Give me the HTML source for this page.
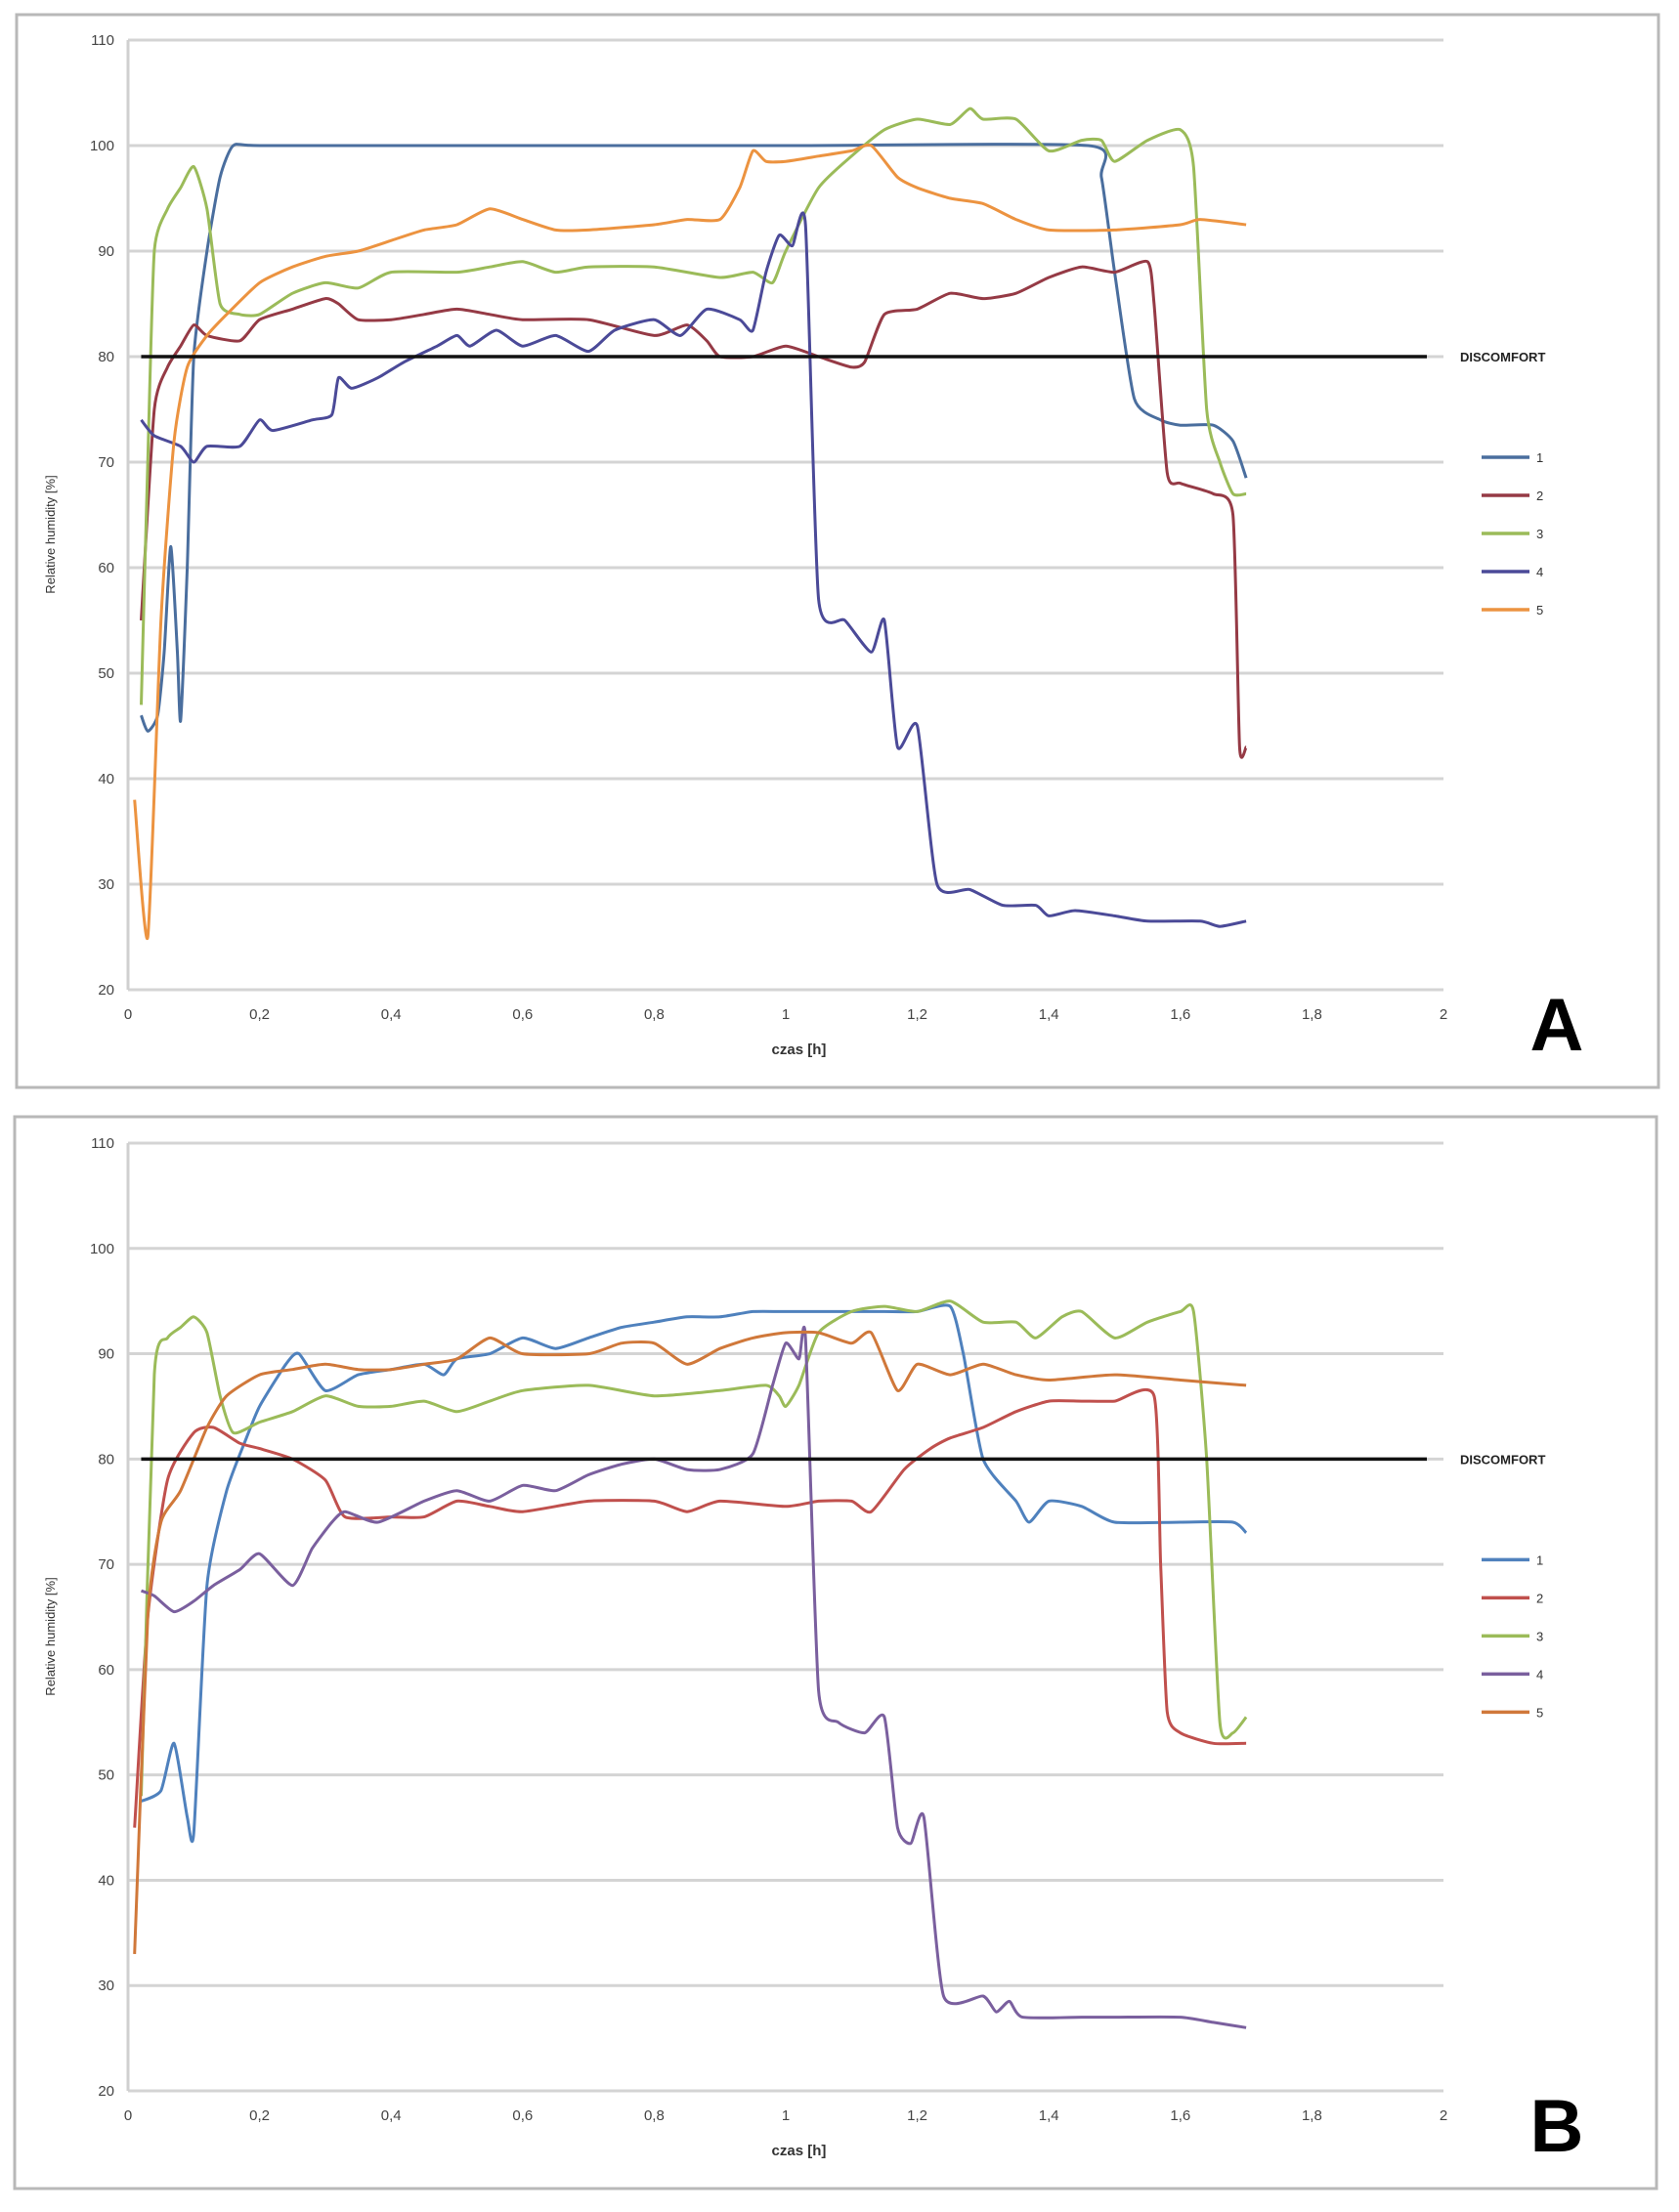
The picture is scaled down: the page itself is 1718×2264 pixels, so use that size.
<!DOCTYPE html>
<html><head><meta charset="utf-8">
<style>
html,body{margin:0;padding:0;background:#fff;}
svg{display:block;}
text{font-family:"Liberation Sans",sans-serif;}
</style></head>
<body>
<svg id="root" width="1718" height="2264" viewBox="0 0 1718 2264" xmlns="http://www.w3.org/2000/svg"></svg>
<script>
// ---- Chart A data ----
const xTickLabels = ["0","0,2","0,4","0,6","0,8","1","1,2","1,4","1,6","1,8","2"];
const yTickLabels = ["20","30","40","50","60","70","80","90","100","110"];
const seriesNames = ["1","2","3","4","5"];
const discomfortLevel = 80;

const a1x = [0.02,0.03,0.045,0.055,0.065,0.075,0.08,0.09,0.1,0.12,0.14,0.16,0.2,0.5,1.0,1.46,1.48,1.5,1.53,1.57,1.6,1.65,1.68,1.7];
const a1y = [46,44.5,46,52,62,52,45.5,60,80,90,97,100,100,100,100,100,97,88,76,74,73.5,73.5,72,68.5];
const a2x = [0.02,0.04,0.06,0.08,0.1,0.12,0.17,0.2,0.25,0.3,0.32,0.35,0.4,0.45,0.5,0.55,0.6,0.7,0.8,0.85,0.88,0.9,0.95,1.0,1.05,1.1,1.12,1.15,1.2,1.25,1.3,1.35,1.4,1.45,1.5,1.55,1.56,1.58,1.6,1.65,1.68,1.69,1.7];
const a2y = [55,75,79,81,83,82,81.5,83.5,84.5,85.5,85,83.5,83.5,84,84.5,84,83.5,83.5,82,83,81.5,80,80,81,80,79,79.5,84,84.5,86,85.5,86,87.5,88.5,88,89,85,69,68,67,65,43,43];
const a3x = [0.02,0.03,0.04,0.06,0.08,0.1,0.12,0.14,0.17,0.2,0.25,0.3,0.35,0.4,0.5,0.55,0.6,0.65,0.7,0.8,0.9,0.95,0.98,1.0,1.05,1.1,1.15,1.2,1.25,1.28,1.3,1.35,1.4,1.45,1.48,1.5,1.55,1.6,1.62,1.64,1.66,1.68,1.7];
const a3y = [47,70,90,94,96,98,94,85,84,84,86,87,86.5,88,88,88.5,89,88,88.5,88.5,87.5,88,87,90,96,99,101.5,102.5,102,103.5,102.5,102.5,99.5,100.5,100.5,98.5,100.5,101.5,98,75,70,67,67];
const a4x = [0.02,0.04,0.08,0.1,0.12,0.17,0.2,0.22,0.28,0.31,0.32,0.34,0.38,0.42,0.47,0.5,0.52,0.56,0.6,0.65,0.7,0.74,0.8,0.84,0.88,0.93,0.95,0.97,0.99,1.01,1.03,1.05,1.09,1.13,1.15,1.17,1.2,1.23,1.28,1.33,1.38,1.4,1.44,1.5,1.55,1.63,1.66,1.7];
const a4y = [74,72.5,71.5,70,71.5,71.5,74,73,74,74.5,78,77,78,79.5,81,82,81,82.5,81,82,80.5,82.5,83.5,82,84.5,83.5,82.5,88,91.5,90.5,92.5,57,55,52,55,43,45,30,29.5,28,28,27,27.5,27,26.5,26.5,26,26.5];
const a5x = [0.01,0.03,0.05,0.07,0.09,0.12,0.15,0.2,0.25,0.3,0.35,0.4,0.45,0.5,0.55,0.6,0.65,0.7,0.8,0.85,0.9,0.93,0.95,0.97,1.0,1.05,1.1,1.13,1.17,1.2,1.25,1.3,1.35,1.4,1.5,1.6,1.63,1.7];
const a5y = [38,25,55,72,79,82,84,87,88.5,89.5,90,91,92,92.5,94,93,92,92,92.5,93,93,96,99.5,98.5,98.5,99,99.5,100,97,96,95,94.5,93,92,92,92.5,93,92.5];

// ---- Chart B data ----
const b1x = [0.02,0.05,0.07,0.09,0.1,0.12,0.15,0.18,0.2,0.24,0.26,0.3,0.35,0.4,0.45,0.48,0.5,0.55,0.6,0.65,0.7,0.75,0.8,0.85,0.9,0.95,1.0,1.05,1.1,1.15,1.2,1.25,1.27,1.3,1.35,1.37,1.4,1.45,1.5,1.6,1.68,1.7];
const b1y = [47.5,48.5,53,46,44.5,68,77,82,85,89,90,86.5,88,88.5,89,88,89.5,90,91.5,90.5,91.5,92.5,93,93.5,93.5,94,94,94,94,94,94,94.5,90,80,76,74,76,75.5,74,74,74,73];
const b2x = [0.01,0.03,0.06,0.1,0.13,0.17,0.2,0.25,0.3,0.33,0.4,0.45,0.5,0.55,0.6,0.7,0.8,0.85,0.9,1.0,1.05,1.1,1.13,1.18,1.22,1.25,1.3,1.35,1.4,1.45,1.5,1.56,1.57,1.58,1.6,1.65,1.7];
const b2y = [45,65,78,82.5,83,81.5,81,80,78,74.5,74.5,74.5,76,75.5,75,76,76,75,76,75.5,76,76,75,79,81,82,83,84.5,85.5,85.5,85.5,86,70,56,54,53,53];
const b3x = [0.02,0.04,0.06,0.08,0.1,0.12,0.14,0.16,0.2,0.25,0.3,0.35,0.4,0.45,0.5,0.55,0.6,0.7,0.8,0.9,0.97,0.99,1.0,1.02,1.05,1.1,1.15,1.2,1.25,1.3,1.35,1.38,1.42,1.45,1.5,1.55,1.6,1.62,1.64,1.66,1.68,1.7];
const b3y = [48,88,91.5,92.5,93.5,92,86,82.5,83.5,84.5,86,85,85,85.5,84.5,85.5,86.5,87,86,86.5,87,86,85,87,92,94,94.5,94,95,93,93,91.5,93.5,94,91.5,93,94,94,80,55,54,55.5];
const b4x = [0.02,0.04,0.07,0.1,0.13,0.17,0.2,0.25,0.28,0.31,0.33,0.38,0.45,0.5,0.55,0.6,0.65,0.7,0.75,0.8,0.85,0.9,0.95,0.98,1.0,1.02,1.03,1.05,1.08,1.12,1.15,1.17,1.19,1.21,1.24,1.3,1.32,1.34,1.36,1.45,1.5,1.6,1.65,1.7];
const b4y = [67.5,67,65.5,66.5,68,69.5,71,68,71.5,74,75,74,76,77,76,77.5,77,78.5,79.5,80,79,79,80.5,87,91,89.5,91.5,58,55,54,55.5,45,43.5,46,29,29,27.5,28.5,27,27,27,27,26.5,26];
const b5x = [0.01,0.03,0.05,0.08,0.12,0.15,0.2,0.25,0.3,0.35,0.4,0.45,0.5,0.55,0.6,0.7,0.75,0.8,0.85,0.9,0.95,1.0,1.05,1.1,1.13,1.17,1.2,1.25,1.3,1.35,1.4,1.5,1.6,1.7];
const b5y = [33,65,74,77,83,86,88,88.5,89,88.5,88.5,89,89.5,91.5,90,90,91,91,89,90.5,91.5,92,92,91,92,86.5,89,88,89,88,87.5,88,87.5,87];

const colorsA = ["#4a6e9e","#953a45","#9bbb59","#4b4a98","#ec9340"];
const colorsB = ["#4f81bd","#c0504d","#9bbb59","#7a5f9e","#d0783a"];

const NS = "http://www.w3.org/2000/svg";
const root = document.getElementById("root");
function mk(tag, attrs, parent){
  const e = document.createElementNS(NS, tag);
  for (const k in attrs) e.setAttribute(k, attrs[k]);
  (parent||root).appendChild(e);
  return e;
}
function smoothPath(pts){
  let d = "M" + pts[0][0].toFixed(1) + "," + pts[0][1].toFixed(1);
  for (let i=0;i<pts.length-1;i++){
    const p0 = pts[i-1]||pts[i], p1 = pts[i], p2 = pts[i+1], p3 = pts[i+2]||p2;
    const t = 0.10;
    const c1 = [p1[0]+(p2[0]-p0[0])*t, p1[1]+(p2[1]-p0[1])*t];
    const c2 = [p2[0]-(p3[0]-p1[0])*t, p2[1]-(p3[1]-p1[1])*t];
    d += " C"+c1[0].toFixed(1)+","+c1[1].toFixed(1)+" "+c2[0].toFixed(1)+","+c2[1].toFixed(1)+" "+p2[0].toFixed(1)+","+p2[1].toFixed(1);
  }
  return d;
}

function drawChart(cfg){
  const g = mk("g", {});
  
  
  const frame = mk("rect", {x:cfg.fx, y:cfg.fy, width:cfg.fw, height:cfg.fh, fill:"#fff", stroke:"#b8b8b8", "stroke-width":3}, g);
  
  
  const x0 = 131, x1 = 1477, yTop = cfg.yTop, yBot = cfg.yBot;
  const sx = v => x0 + (v/2)*(x1-x0);
  const sy = v => yBot - (v-20)/90*(yBot-yTop);
  for (let i=0;i<yTickLabels.length;i++){
    const v = +yTickLabels[i];
    const gl = mk("line", {x1:x0, x2:x1, y1:sy(v), y2:sy(v), stroke:"#d4d4d4", "stroke-width":3}, g);
    
    
    const t = mk("text", {x:x0-14, y:sy(v)+5, "text-anchor":"end", "font-size":15, fill:"#444"}, g);
    t.textContent = yTickLabels[i];
    
    
  }
  const ya = mk("line", {x1:x0, x2:x0, y1:yTop, y2:yBot, stroke:"#d0d0d0", "stroke-width":3}, g);
  
  
  for (let i=0;i<xTickLabels.length;i++){
    const v = i*0.2;
    const t = mk("text", {x:sx(v), y:yBot+30, "text-anchor":"middle", "font-size":15, fill:"#444"}, g);
    t.textContent = xTickLabels[i];
    
    
  }
  const xt = mk("text", {x:sx(1.02), y:yBot+66, "text-anchor":"middle", "font-size":15, "font-weight":"bold", fill:"#333"}, g);
  xt.textContent = "czas [h]";
  
  
  const yc = (yTop+yBot)/2 + 20;
  const yt = mk("text", {x:56, y:yc, "text-anchor":"middle", "font-size":13, fill:"#333", transform:"rotate(-90 56 "+yc+")"}, g);
  yt.textContent = "Relative  humidity  [%]";
  
  
  for (let s=0;s<cfg.xs.length;s++){
    const pts = cfg.xs[s].map((xv,i)=>[sx(xv), sy(cfg.ys[s][i])]);
    const p = mk("path", {d:smoothPath(pts), fill:"none", stroke:cfg.colors[s], "stroke-width":3, "stroke-linejoin":"round"}, g);
    
    
  }
  const dl = mk("line", {x1:sx(0.02), x2:1460, y1:sy(discomfortLevel), y2:sy(discomfortLevel), stroke:"#111", "stroke-width":3.5}, g);
  
  
  const dt = mk("text", {x:1494, y:sy(discomfortLevel)+5, "font-size":13, "font-weight":"bold", fill:"#222"}, g);
  dt.textContent = "DISCOMFORT";
  
  
  for (let s=0;s<seriesNames.length;s++){
    const ly = sy(discomfortLevel) + 103 + s*39;
    const ll = mk("line", {x1:1516, x2:1565, y1:ly, y2:ly, stroke:cfg.colors[s], "stroke-width":3.5}, g);
    
    
    const lt = mk("text", {x:1572, y:ly+5, "font-size":13, fill:"#333"}, g);
    lt.textContent = seriesNames[s];
    
    
  }
  const pl = mk("text", {x:1593, y:cfg.yBot+62, "text-anchor":"middle", "font-size":76, "font-weight":"bold", fill:"#000"}, g);
  pl.textContent = cfg.letter;
  
  
}

drawChart({name:"chart-a", letter:"A", fx:17, fy:15, fw:1680, fh:1098, yTop:41, yBot:1013,
  xs:[a1x,a2x,a3x,a4x,a5x], ys:[a1y,a2y,a3y,a4y,a5y], colors:colorsA});
drawChart({name:"chart-b", letter:"B", fx:15, fy:1143, fw:1680, fh:1097, yTop:1170, yBot:2140,
  xs:[b1x,b2x,b3x,b4x,b5x], ys:[b1y,b2y,b3y,b4y,b5y], colors:colorsB});
</script>
</body></html>
